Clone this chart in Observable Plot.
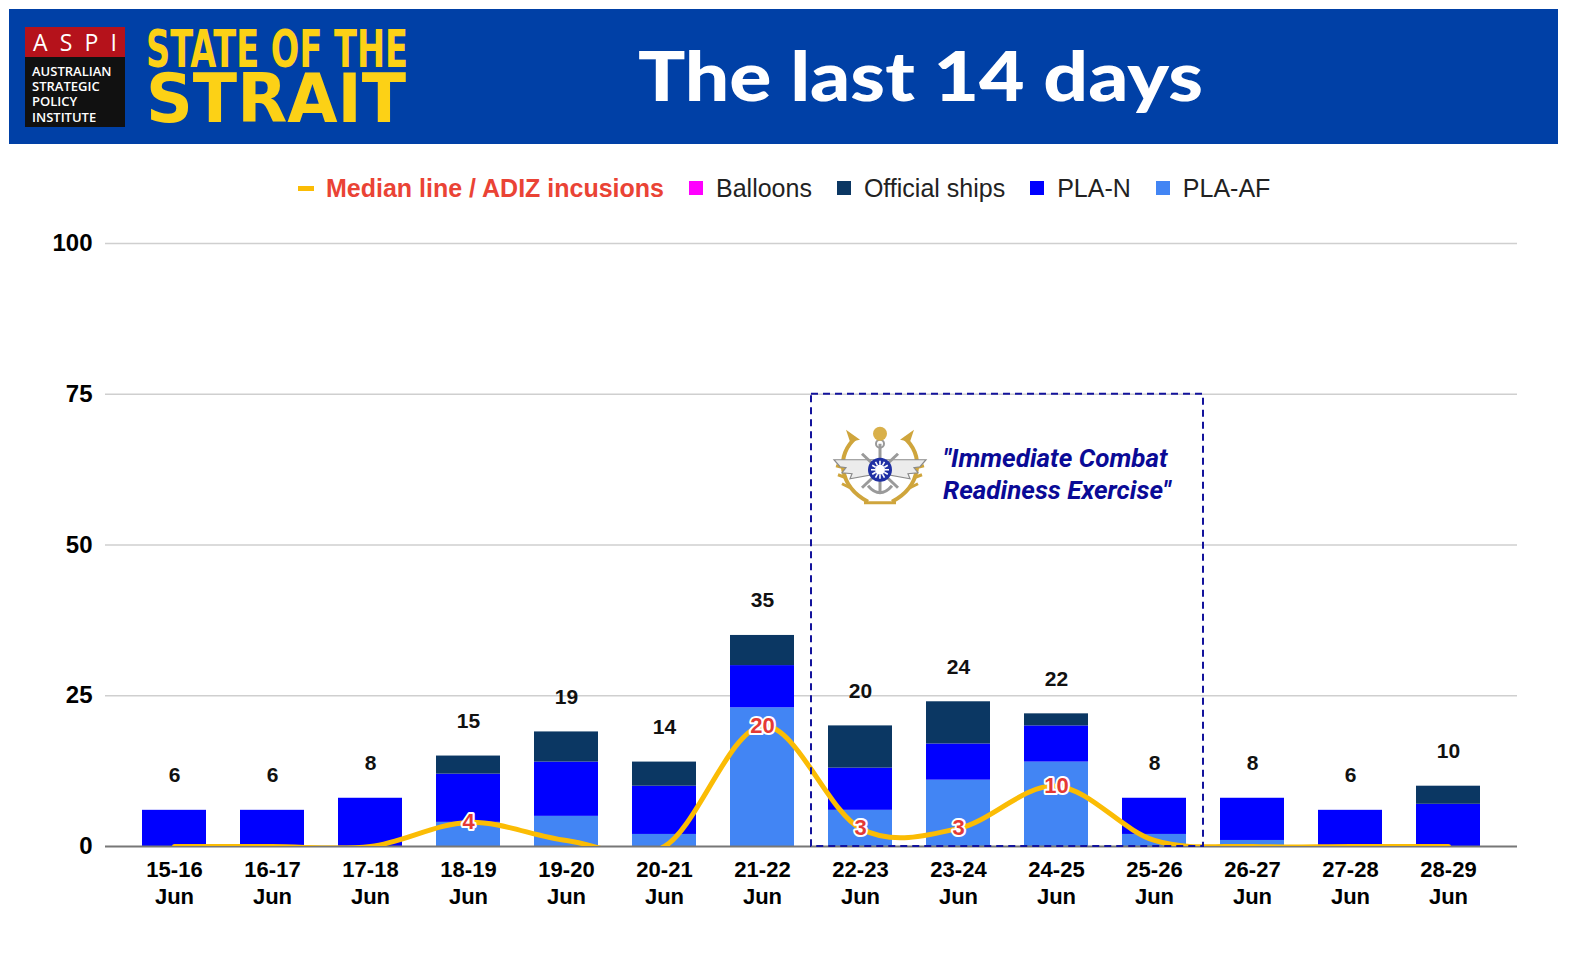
<!DOCTYPE html>
<html>
<head>
<meta charset="utf-8">
<script src="https://cdn.jsdelivr.net/npm/d3@7"></script>
<script src="https://cdn.jsdelivr.net/npm/@observablehq/plot@0.6"></script>
<style>
  html, body { margin: 0; padding: 0; background: #fff; }
  #page { position: relative; width: 1591px; height: 972px; overflow: hidden; font-family: "Liberation Sans", Arial, sans-serif; }
  #header { position: absolute; left: 0; top: 0; }
  #legend { position: absolute; left: 0; top: 171px; width: 1591px; height: 34px; display: flex; align-items: center; font-size: 25px; }
  .item { display: flex; align-items: center; margin-right: 25px; }
  .sw { width: 14px; height: 14px; margin-right: 13px; }
  .lsw { width: 16px; height: 5px; margin-right: 12px; background: #fbbc04; }
  #chart { position: absolute; left: 0; top: 215px; }
</style>
</head>
<body>
<div id="page">
  <svg id="header" width="1591" height="150" xmlns="http://www.w3.org/2000/svg">
    <rect x="9" y="9" width="1549" height="135" fill="#0040a6"/>
    <rect x="25" y="27" width="100" height="30" fill="#b5121b"/>
    <text x="33" y="51" fill="#fff" font-family="Open Sans, sans-serif" font-size="23" textLength="84" lengthAdjust="spacing">ASPI</text>
    <rect x="25" y="57" width="100" height="70" fill="#111"/>
    <g fill="#fff" font-family="Open Sans, sans-serif" font-size="13" font-weight="600">
      <text x="32" y="76">AUSTRALIAN</text>
      <text x="32" y="91">STRATEGIC</text>
      <text x="32" y="106">POLICY</text>
      <text x="32" y="122">INSTITUTE</text>
    </g>
    <text fill="#fcd116" font-family="Liberation Sans Narrow, DejaVu Sans Condensed, Liberation Sans, sans-serif" font-weight="bold"><tspan x="146" y="67" font-size="51" textLength="262" lengthAdjust="spacingAndGlyphs">STATE OF THE</tspan><tspan x="146" y="122" font-size="68" textLength="260" lengthAdjust="spacingAndGlyphs">STRAIT</tspan></text>
    <text x="638" y="101" fill="#fff" font-family="Lato, sans-serif" font-weight="900" font-size="68" textLength="565" lengthAdjust="spacingAndGlyphs">The last 14 days</text>
  </svg>
  <div id="legend"></div>
  <div id="chart"></div>
</div>
<script>
// ---- data ----
const categories = ["15-16 Jun","16-17 Jun","17-18 Jun","18-19 Jun","19-20 Jun","20-21 Jun","21-22 Jun",
                    "22-23 Jun","23-24 Jun","24-25 Jun","25-26 Jun","26-27 Jun","27-28 Jun","28-29 Jun"];
const plaAF        = [0, 0, 0, 4, 5, 2, 23, 6, 11, 14, 2, 1, 0, 0];
const plaN         = [6, 6, 8, 8, 9, 8, 7, 7, 6, 6, 6, 7, 6, 7];
const officialShips= [0, 0, 0, 3, 5, 4, 5, 7, 7, 2, 0, 0, 0, 3];
const balloons     = [0, 0, 0, 0, 0, 0, 0, 0, 0, 0, 0, 0, 0, 0];
const medianADIZ   = [0, 0, 0, 4, 1, 0, 20, 3, 3, 10, 1, 0, 0, 0];
const yTicks = [0, 25, 50, 75, 100];
const seriesNames  = ["PLA-AF", "PLA-N", "Official ships", "Balloons"];
const seriesColors = ["#4285f4", "#0000ff", "#0b3763", "#ff00ff"];
const exerciseStart = "22-23 Jun", exerciseEnd = "25-26 Jun", exerciseTop = 75;
const exerciseLines = ["\"Immediate Combat", "Readiness Exercise\""];

// ---- tables built from arrays ----
const seriesValues = [plaAF, plaN, officialShips, balloons];
const stacked = [];
seriesNames.forEach((s, si) => categories.forEach((c, i) => stacked.push({cat: c, series: s, value: seriesValues[si][i]})));
const totals = categories.map((c, i) => ({cat: c, total: plaAF[i] + plaN[i] + officialShips[i] + balloons[i]}));
const median = categories.map((c, i) => ({cat: c, value: medianADIZ[i]}));

// ---- legend ----
const legend = document.getElementById("legend");
legend.style.paddingLeft = "298px";
legend.innerHTML =
  `<div class="item"><div class="lsw"></div><span style="color:#ea4335;font-weight:bold">Median line / ADIZ incusions</span></div>` +
  ["Balloons", "Official ships", "PLA-N", "PLA-AF"].map(s =>
    `<div class="item"><div class="sw" style="background:${seriesColors[seriesNames.indexOf(s)]}"></div><span style="color:#222">${s}</span></div>`).join("");

// ---- chart ----
const chart = Plot.plot({
  width: 1591,
  height: 720,
  marginTop: 28,
  marginBottom: 89,
  marginLeft: 105,
  marginRight: 74,
  style: {fontFamily: "Liberation Sans, Arial, sans-serif", fontSize: "20px", color: "#000", background: "transparent"},
  x: {domain: categories, padding: 0.35, label: null},
  y: {domain: [0, 100], label: null},
  color: {domain: seriesNames, range: seriesColors},
  marks: [
    Plot.ruleY(yTicks.filter(d => d > 0), {stroke: "#cfcfcf", strokeWidth: 1.3}),
    Plot.barY(stacked, {x: "cat", y: "value", fill: "series", order: seriesNames}),
    Plot.ruleY([0], {stroke: "#777", strokeWidth: 2}),
    Plot.line(median, {x: "cat", y: "value", curve: "cardinal", stroke: "#fbbc04", strokeWidth: 5, clip: true}),
    Plot.text(median.filter(d => d.value > 1), {x: "cat", y: "value", text: d => String(d.value),
      fill: "#e53935", stroke: "#fff", strokeWidth: 4, fontSize: 22, fontWeight: "bold"}),
    Plot.text(totals, {x: "cat", y: "total", text: d => String(d.total), dy: -35, fontSize: 21, fontWeight: "bold", fill: "#111"}),
    Plot.axisY({ticks: yTicks, tickSize: 0, tickPadding: 13, fontWeight: "bold", fontSize: 24, label: null}),
    Plot.axisX({tickSize: 0, tickPadding: 12, fontWeight: "bold", fontSize: 22, lineHeight: 1.2,
      tickFormat: d => d.replace(" ", "\n"), label: null})
  ]
});
document.getElementById("chart").appendChild(chart);

// ---- exercise annotation (positions from the plot's own scales) ----
const sx = chart.scale("x"), sy = chart.scale("y");
const gap = sx.step - sx.bandwidth;
const bx1 = sx.apply(exerciseStart) - gap / 2;
const bx2 = sx.apply(exerciseEnd) + sx.bandwidth + gap / 2;
const by1 = sy.apply(exerciseTop), by2 = sy.apply(0);
const svg = d3.select(chart);
svg.append("rect").attr("x", bx1).attr("y", by1).attr("width", bx2 - bx1).attr("height", by2 - by1)
  .attr("fill", "none").attr("stroke", "#13139c").attr("stroke-width", 2).attr("stroke-dasharray", "7,5");

// emblem (simplified)
const em = svg.append("g").attr("transform", `translate(${bx1 + 69},${by1 + 74})`);
const gold = "#cfa53c";
em.append("path").attr("d", "M-24,-30 C-44,-14 -42,18 -12,34").attr("fill", "none").attr("stroke", gold).attr("stroke-width", 4);
em.append("path").attr("d", "M24,-30 C44,-14 42,18 12,34").attr("fill", "none").attr("stroke", gold).attr("stroke-width", 4);
em.append("path").attr("d", "M-20,-28 l-14,-10 l4,12 z M20,-28 l14,-10 l-4,12 z").attr("fill", gold);
em.append("path").attr("d", "M-30,20 l-8,-4 M-34,10 l-8,-3 M-36,0 l-8,-2 M30,20 l8,-4 M34,10 l8,-3 M36,0 l8,-2")
  .attr("stroke", gold).attr("stroke-width", 3);
em.append("path").attr("d", "M-6,-8 L-46,-8 L-40,-1 L-34,0 L-38,5 L-28,6 L-30,11 L-8,7 Z").attr("fill", "#ececec").attr("stroke", "#8a8a8a").attr("stroke-width", 1.2);
em.append("path").attr("d", "M6,-8 L46,-8 L40,-1 L34,0 L38,5 L28,6 L30,11 L8,7 Z").attr("fill", "#ececec").attr("stroke", "#8a8a8a").attr("stroke-width", 1.2);
em.append("path").attr("d", "M0,-24 L0,26 M-12,18 Q0,32 12,18 M-18,-14 L18,20 M18,-14 L-18,20").attr("fill", "none").attr("stroke", "#9a9a9a").attr("stroke-width", 3);
em.append("circle").attr("cx", 0).attr("cy", -24).attr("r", 4).attr("fill", "none").attr("stroke", "#999").attr("stroke-width", 2);
em.append("circle").attr("cx", 0).attr("cy", -34).attr("r", 7).attr("fill", "#d9b04a");
em.append("path").attr("d", "M-16,35 L16,35").attr("stroke", gold).attr("stroke-width", 3);
em.append("circle").attr("cx", 0).attr("cy", 2).attr("r", 12).attr("fill", "#1f2fa3");
em.append("circle").attr("cx", 0).attr("cy", 2).attr("r", 5).attr("fill", "#fff");
for (let k = 0; k < 12; k++) {
  const a = k * Math.PI / 6;
  em.append("line").attr("x1", Math.cos(a) * 5).attr("y1", 2 + Math.sin(a) * 5)
    .attr("x2", Math.cos(a) * 9).attr("y2", 2 + Math.sin(a) * 9).attr("stroke", "#fff").attr("stroke-width", 1.6);
}

const t = svg.append("text").attr("x", bx1 + 132).attr("y", by1 + 73).attr("text-anchor", "start")
  .attr("fill", "#0a0a96").attr("font-family", "Roboto, sans-serif").attr("font-weight", "bold")
  .attr("font-style", "italic").attr("font-size", 26);
exerciseLines.forEach((l, i) => t.append("tspan").attr("x", bx1 + 132).attr("dy", i === 0 ? 0 : 32).text(l));
</script>
</body>
</html>
